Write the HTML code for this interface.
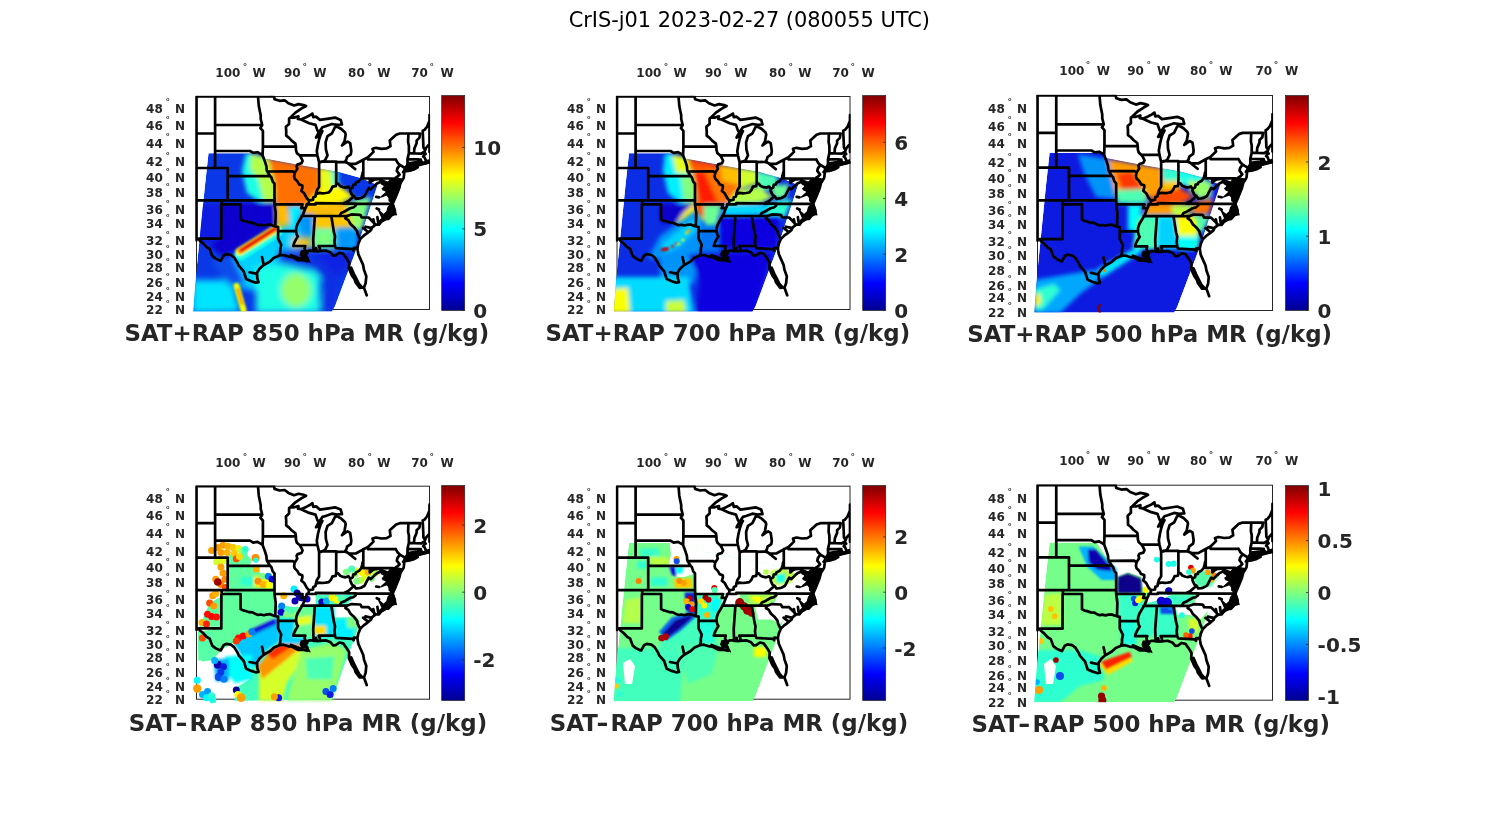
<!DOCTYPE html>
<html><head><meta charset="utf-8"><title>CrIS-j01 2023-02-27 (080055 UTC)</title>
<style>html,body{margin:0;padding:0;background:#fff}body{width:1500px;height:825px;overflow:hidden}svg{display:block}text{font-family:"DejaVu Sans","Liberation Sans",sans-serif}.b{font-weight:bold;fill:#262626}.t{font-size:12px}.d{font-size:9px}.c{font-size:20px}.x{font-size:22.92px}</style></head><body>
<svg width="1500" height="825" viewBox="0 0 1500 825">
<defs>
<linearGradient id="jet" x1="0" y1="0" x2="0" y2="1"><stop offset="0" stop-color="#800000"/><stop offset="0.125" stop-color="#ff0000"/><stop offset="0.375" stop-color="#ffff00"/><stop offset="0.625" stop-color="#00ffff"/><stop offset="0.875" stop-color="#0000ff"/><stop offset="1" stop-color="#000090"/></linearGradient>
<clipPath id="box"><rect x="195.1" y="95.8" width="235.0" height="214.2"/></clipPath>
<filter id="b0_6" x="-50%" y="-50%" width="200%" height="200%"><feGaussianBlur stdDeviation="0.6"/></filter>
<filter id="b1" x="-50%" y="-50%" width="200%" height="200%"><feGaussianBlur stdDeviation="1"/></filter>
<filter id="b1_5" x="-50%" y="-50%" width="200%" height="200%"><feGaussianBlur stdDeviation="1.5"/></filter>
<filter id="b2" x="-50%" y="-50%" width="200%" height="200%"><feGaussianBlur stdDeviation="2"/></filter>
<filter id="b3" x="-50%" y="-50%" width="200%" height="200%"><feGaussianBlur stdDeviation="3"/></filter>
<filter id="b4" x="-50%" y="-50%" width="200%" height="200%"><feGaussianBlur stdDeviation="4"/></filter>
<filter id="b6" x="-50%" y="-50%" width="200%" height="200%"><feGaussianBlur stdDeviation="6"/></filter>
<g id="map" clip-path="url(#box)"><g fill="none" stroke="#000" stroke-width="2.7" stroke-linejoin="round" stroke-linecap="round">
<path d="M196.5 96.5 L271.1 96.5 L271.1 92.6 M215.1 96.5 L215.1 168.0 M196.5 133.5 L215.1 133.5 M215.1 125.0 L262.2 125.0 M215.1 151.0 L250.0 151.0 L253.2 152.9 L257.6 152.2 L261.4 154.4 L262.6 155.3 M196.5 168.0 L227.7 168.0 M227.7 168.0 L227.7 200.4 M227.7 176.2 L270.2 176.2 M196.5 200.4 L274.5 200.4 M221.7 200.4 L221.7 204.3 L240.6 204.3 L240.6 219.4 M221.4 204.3 L221.3 238.7 L198.9 238.7 M196.5 96.5 L196.5 240.3 M240.6 219.4 L243.1 220.7 L245.6 221.3 L249.4 222.5 L252.5 222.7 L255.1 224.0 L258.2 225.3 L260.7 224.8 L263.9 225.5 L267.0 224.7 L270.2 224.5 L272.7 225.6 L275.3 226.4 L278.1 227.0 M274.5 200.4 L274.5 204.3 L275.7 212.9 L275.3 226.4 M274.5 204.3 L302.6 204.3 L301.2 208.2 L305.4 208.2 M274.5 200.4 L274.5 183.6 L272.7 181.6 L271.4 177.5 L270.2 176.2 L267.2 171.5 M267.2 171.5 L292.7 171.3 L294.6 173.1 M262.9 146.7 L295.9 146.7 M262.6 155.3 L262.9 146.7 L262.9 130.8 L260.4 128.1 L262.2 125.0 L260.7 119.0 L260.7 115.3 L258.8 106.0 L258.0 96.5 M262.6 155.3 L265.1 162.1 L266.4 166.3 L266.7 170.0 L267.2 171.5 M290.3 117.6 L289.1 118.5 L289.1 123.9 L285.9 126.8 L286.2 130.8 L286.2 135.7 L289.1 137.9 L291.6 140.6 L295.4 143.6 L295.9 146.7 L296.0 150.1 L296.9 153.1 L299.5 155.3 L301.0 157.4 L302.6 160.8 L301.4 163.3 L297.6 164.4 L296.6 166.3 L297.3 168.8 L294.7 172.9 L294.1 176.2 L294.7 178.7 L297.3 181.2 L299.1 184.4 L302.3 185.5 L302.4 187.6 L301.4 190.9 L304.2 193.3 L306.7 198.0 L309.0 200.6 L308.6 203.5 L306.7 204.3 L306.4 206.3 L305.4 208.2 L304.2 211.3 L302.9 214.8 L301.7 216.7 L299.9 219.8 L297.6 223.6 L296.3 227.4 L296.0 231.2 L296.9 234.9 L297.9 236.4 L296.0 239.4 L294.1 243.1 L293.3 246.0 M293.3 246.0 L305.3 246.0 L304.5 248.6 L306.1 251.9 M278.1 231.2 L296.2 231.2 M278.1 227.0 L278.1 238.7 L279.6 241.6 L281.2 244.9 L280.3 249.0 L280.3 252.6 L279.3 255.5 M313.6 251.2 L313.2 239.4 L314.9 216.0 M331.3 216.0 L333.9 232.2 L335.0 236.4 L334.5 241.6 L335.0 246.0 M319.6 251.2 L319.9 248.6 L318.7 246.0 L335.0 246.0 M335.0 246.0 L335.9 248.2 L352.7 249.2 L353.6 250.7 L353.9 247.9 L357.4 248.2 M301.7 216.0 L347.0 216.0 M306.7 204.3 L315.8 204.3 L315.8 203.2 L343.4 203.5 L355.9 203.6 L392.5 203.9 M339.4 216.0 L341.3 212.9 L344.5 211.6 L347.0 210.0 L350.2 208.2 L353.3 207.5 L355.8 205.5 L355.9 203.6 M347.0 216.0 L351.4 214.4 L360.0 214.8 L360.7 215.2 L361.6 217.4 L368.6 217.5 L375.7 224.7 M347.0 216.0 L345.4 218.3 L348.3 220.2 L350.5 224.0 L354.2 227.4 L357.1 231.2 L357.7 234.2 L359.5 237.9 L360.9 238.4 M343.4 203.5 L348.3 201.2 L354.1 196.1 L352.0 194.9 L350.2 190.9 L350.2 189.1 M363.3 171.0 L362.6 172.9 L362.1 175.4 L361.2 178.7 L359.0 181.2 L355.8 182.8 L355.5 184.4 L353.3 184.8 L352.7 187.6 L350.2 189.1 L348.6 186.6 L345.7 187.6 L343.2 187.2 L340.1 186.0 L338.2 183.6 L336.2 183.6 L335.7 186.2 L332.5 186.6 L330.9 190.1 L328.7 192.5 L325.6 193.0 L322.4 193.3 L319.3 192.9 L315.8 194.1 L315.5 196.4 L313.3 197.2 L313.0 199.8 L309.0 200.6 M315.8 194.1 L316.8 190.5 L319.1 186.8 L319.1 181.6 L319.1 161.6 M336.2 183.6 L336.2 162.1 M321.2 161.6 L336.2 161.6 L336.2 162.1 L344.8 161.9 M299.5 155.3 L317.4 155.3 M363.3 178.5 L363.3 159.5 M368.0 157.3 L368.0 159.5 L395.8 159.5 M363.3 178.5 L393.0 178.5 M369.8 178.5 L369.8 182.8 L372.2 180.7 L374.4 179.5 L376.6 179.4 L377.9 178.9 L380.1 179.5 L380.9 181.8 L382.3 183.6 L384.2 184.7 L385.2 186.0 L383.5 189.3 L385.4 190.1 L389.8 192.9 M380.9 181.8 L376.9 183.6 L373.8 186.4 L370.9 189.3 L368.7 188.0 L364.6 196.0 L360.9 198.0 L359.0 198.4 L355.9 198.8 L354.1 196.1 M393.0 178.5 L393.0 188.9 L397.7 188.9 M394.6 179.5 L395.4 177.9 L397.4 176.7 L399.6 174.6 L396.8 170.9 L397.4 168.4 L399.9 164.9 L397.7 162.9 L395.8 159.5 M399.9 164.9 L404.9 168.0 M406.5 168.0 L407.5 165.4 L407.5 159.1 L408.9 153.1 L408.9 145.8 L408.1 142.3 L408.4 133.5 M389.8 140.6 L396.1 134.8 L399.9 133.5 L420.1 133.5 M407.5 159.2 L418.2 159.4 L420.8 159.5 L420.8 160.4 L421.9 162.1 L422.4 163.8 M417.9 165.3 L418.2 159.4 M408.9 153.2 L421.3 153.6 L423.2 152.3 L424.3 152.1 M414.0 153.3 L414.4 148.4 L416.6 143.2 L416.6 140.6 L419.4 137.9 L420.1 133.5 M425.1 150.4 L423.4 147.5 L423.3 144.1 L423.0 137.0 L422.7 130.8 L424.5 129.9 L427.0 126.8 L429.5 120.8 M389.8 140.6 L390.5 146.2 L386.7 148.4 L381.6 148.8 L376.0 147.8 L372.5 148.8 L373.5 151.9 L368.0 157.3 L363.3 159.7 L355.8 163.8 L349.5 163.8 L344.8 161.9 L346.4 159.5 L347.0 157.0 L350.8 154.4 L351.3 151.0 L350.2 143.2 L347.6 141.7 L345.1 143.2 L342.0 145.4 L344.5 141.4 L345.7 134.4 L345.1 132.6 L341.3 129.0 L336.9 126.5 L335.0 127.2 L331.9 133.5 L327.5 136.1 L325.6 142.3 L325.9 149.3 L327.5 155.3 L325.0 160.4 L321.2 162.1 L319.1 162.1 L317.4 155.3 L316.8 151.0 L318.0 144.1 L319.3 138.8 L320.6 134.8 L322.4 131.2 L317.4 137.0 L316.1 137.5 L318.7 132.6 L322.4 127.2 L325.6 126.3 L331.9 124.0 L336.9 124.9 L340.7 124.5 L342.0 124.5 L340.7 119.9 L335.0 117.6 L328.7 118.6 L319.9 119.9 L316.1 116.7 L313.3 117.2 L312.4 113.5 L309.9 115.3 L306.1 117.2 L301.0 119.5 L297.9 119.0 L298.5 116.3 L294.1 117.6 L290.3 117.6 L295.4 112.6 L301.7 108.4 L306.1 106.0 L303.6 105.1 L298.5 104.1 L294.1 105.5 L288.4 103.2 L284.7 100.3 L279.6 100.8 L274.6 99.2 L274.0 96.5 L271.1 96.5 M301.0 119.5 L309.2 123.2 L315.5 124.9 L317.4 130.4 L318.7 132.6 M258.5 282.2 L255.7 282.6 L251.3 281.2 L246.2 279.1 L243.7 271.3 L238.7 265.6 L237.4 262.7 L234.3 257.7 L231.1 255.0 L226.1 254.2 L223.6 255.5 L220.7 260.8 L219.8 260.6 L215.4 258.4 L212.2 255.9 L209.7 249.0 L206.6 247.1 L202.8 243.1 L199.6 240.5 L198.9 238.7 M258.5 282.2 L257.3 278.4 L257.0 272.7 L259.5 268.8 L263.3 265.3 L270.2 261.3 L274.0 257.7 L279.3 255.5 L283.4 255.0 L289.1 256.8 L292.2 257.0 L295.4 258.8 L297.9 260.2 L302.3 259.9 L307.3 261.1 L307.3 257.7 L305.4 255.5 L307.3 253.0 L306.1 251.9 L309.9 250.6 L313.6 250.8 L315.5 251.2 L316.1 248.2 L316.8 251.5 L319.6 251.2 L325.6 250.6 L330.6 252.6 L333.2 255.7 L335.7 255.4 L339.4 252.8 L343.2 253.7 L347.0 259.1 L349.2 262.7 L348.9 268.5 L352.0 275.6 L354.6 279.1 L355.5 282.3 L359.6 287.8 L364.0 287.5 L365.6 283.3 L366.3 276.3 L364.0 269.9 L363.1 264.9 L360.5 259.1 L358.3 254.1 L357.7 250.4 L357.4 248.2 L358.3 243.8 L360.2 239.4 L360.9 238.4 L363.7 235.7 L367.2 233.1 L370.9 230.1 L372.2 227.4 L375.7 224.7 L379.1 224.6 L381.6 221.3 L384.8 218.7 L388.3 219.0 L391.7 215.2 L394.7 214.1 L394.9 210.2 L392.5 203.9 L391.7 201.2 L389.8 200.4 L389.8 196.4 L389.8 192.9 L389.2 190.1 L388.6 185.2 L389.2 182.0 L391.4 179.9 L390.5 182.0 L389.8 186.8 L391.7 190.9 L392.3 193.3 L392.0 199.2 L394.2 195.6 L396.1 192.5 L397.7 188.9 L397.4 186.0 L395.5 182.0 L394.6 179.5 M394.6 179.5 L394.9 180.7 L398.0 182.8 L398.6 185.0 L401.8 181.2 L403.7 177.9 L404.3 172.5 L403.1 172.1 L404.3 170.5 L404.9 168.0 M404.3 171.5 L408.7 171.0 L413.8 169.5 L417.7 167.4 L415.0 167.1 L413.1 168.4 L408.7 168.6 L405.9 169.2 L404.3 171.5 M406.5 168.0 L411.2 165.9 L416.3 165.4 L417.9 165.3 L420.7 164.2 L420.7 161.2 L422.4 163.8 L423.8 163.3 L425.4 163.3 L429.5 162.3 L426.4 161.4 L425.4 159.5 L424.5 157.4 L423.2 156.6 L424.1 154.9 L425.7 154.0 L424.3 152.1 L425.1 150.4 L426.0 148.0 L428.2 145.4 L429.5 144.5 M363.8 287.3 L366.7 295.3 M249.6 272.3 L255.7 273.6 M345.4 161.2 L355.2 169.1 M378.1 222.1 L377.4 217.2 M374.4 224.2 L373.3 219.3 M370.8 227.9 L365.5 226.7 M368.4 232.2 L363.1 227.9 M379.1 197.3 L376.2 196.8 M379.1 209.6 L376.7 208.5 M429.5 115.0 L429.5 152.0 M351.2 267.7 L353.7 273.5 L356.7 279.3 L359.0 284.0 L361.7 286.9 M262.0 257.0 L263.6 264.2 M291.0 255.2 L297.0 257.5 L303.0 259.6 L308.0 261.0"/>
<path fill="#000" stroke-width="1.2" d="M381.4 179.5 L388.0 182.4 L396.0 178.0 L402.2 179.2 L399.9 188.5 L396.4 197.2 L393.5 203.8 L390.9 204.2 L390.1 198.7 L386.8 195.0 L380.7 197.2 L387.2 191.4 L382.2 188.5 L388.0 185.9 L383.3 183.4Z M390.1 204.8 L393.5 204.2 L396.4 214.9 L392.3 213.5 L388.7 218.3 L383.6 221.2 L378.1 224.1 L378.1 221.9 L382.2 218.3 L378.5 210.3 L383.6 214.7 L386.8 211.7 L388.0 207.4Z M404.7 167.4 L408.3 162.6 L415.6 161.5 L421.4 162.9 L429.0 159.7 L429.4 163.2 L421.4 165.2 L415.6 166.7 L411.2 170.8 L407.6 168.6 L405.7 170.5Z M301.3 250.9 L305.6 250.6 L306.3 255.3 L310.0 262.2 L305.6 258.2 L302.0 258.2 L300.2 254.5Z"/>
</g></g>
</defs>
<rect width="1500" height="825" fill="#fff"/>
<text x="749.3" y="26.6" text-anchor="middle" font-size="20.9px" fill="#000">CrIS-j01 2023-02-27 (080055 UTC)</text>
<rect x="196.5" y="96.5" width="233.0" height="213.0" fill="none" stroke="#262626" stroke-width="1"/>
<g transform="translate(196.50 96.50) scale(1.00000 1.00000) translate(-196.50 -96.50)">
<clipPath id="sw0"><polygon points="208.5,153.2 261.5,153.2 265,158.4 297,164.5 338.3,171.8 361,178 377.6,185 358,245 335,306 332,311.5 193.2,311.5 196,275 200.5,230 205,185"/></clipPath>
<g clip-path="url(#sw0)">
<polygon points="208.5,153.2 261.5,153.2 265,158.4 297,164.5 338.3,171.8 361,178 377.6,185 358,245 335,306 332,311.5 193.2,311.5 196,275 200.5,230 205,185" fill="#0a38e7"/>
<g filter="url(#b2)">
<polygon points="221,203 275,203 275,225 246,251 228,263 210,245 221,239" fill="#0d00ce"/>
<polygon points="199,203 221,203 221,239 210,245 197,241" fill="#0d1ae0"/>
<polygon points="246,153 269,158.6 275,181 275,202 260,202 247,193 242,171" fill="#1affe5"/>
<polygon points="251,153 269,158.6 275,181 275,202 264,202 258,179 250,169" fill="#b3ff4c"/>
<polygon points="268,158.6 300,164.6 321,168 321,189 310,205 276,205 274,181" fill="#ff7000"/>
<polygon points="320,167.4 337,170.6 338,190 320,192" fill="#e5ff1a"/>
<polygon points="331,170 338,171 339,190 333,190" fill="#2effd1"/>
<polygon points="316,192 339,185 354,197 340,203 306,205" fill="#fffa00"/>
<polygon points="303,203.6 359,203.6 347,214 303,214.6" fill="#ffbd00"/>
<polygon points="354,200 371,197 365,217 348,215 346,209" fill="#80ff80"/>
<polygon points="347,214 366,215 361,231 352,229" fill="#94ff6b"/>
<polygon points="275.6,205 288,205 290,231 277,231" fill="#ffbd00"/>
<polygon points="289,206 302,206 298,231 290,231" fill="#00f0ff"/>
<polygon points="298,215 314,215 313,247 295,247" fill="#0394f9"/>
<polygon points="313.6,214.6 332,214.6 334,230 313.6,229.4" fill="#ffc700"/>
<polygon points="313.6,229.4 334,230 335,247 313.6,247" fill="#38ffc7"/>
<polygon points="332,213 349,214 354,228 334,229" fill="#ffc700"/>
<polygon points="334,229.4 356,228 356,248 335,248" fill="#00b2ff"/>
</g>
<g filter="url(#b3)">
<polygon points="238,252.4 275,228.4 281,250 277,285 256,291 232,286 220,269" fill="#00d1ff"/>
<polygon points="192,280 232,280 240,312 192,313" fill="#00e5ff"/>
<polygon points="210,260 232,254 246,284 230,286" fill="#084deb"/>
<polygon points="256,266 284,264 320,272 320,313 256,313" fill="#1affe5"/>
<ellipse cx="296" cy="290" rx="15" ry="17" fill="#94ff6b"/>
<polygon points="276,253 310,257 338,277 335,309 320,309 329,284 308,266 280,262" fill="#0b2ee4"/>
<polygon points="312,250 354,251 349,266 338,277 320,260" fill="#0c24e2"/>
<polygon points="279,226 300,226 300,250 280,250" fill="#00d1ff"/>
<polygon points="293.6,237.6 311,237.6 311,247.6 292,247.6" fill="#ffc700"/>
<polygon points="313.6,230 334,230 335,247.6 313.6,247.6" fill="#80ff80"/>
<polygon points="336,230 356,230 352,248 336,248" fill="#0394f9"/>
</g>
<g filter="url(#b1)">
<polyline points="240.5,254.5 277,231.5" fill="none" stroke="#1affe5" stroke-width="12" stroke-linecap="round" stroke-linejoin="round"/>
<polyline points="239.5,251.6 276.5,228.5" fill="none" stroke="#faff05" stroke-width="8" stroke-linecap="round" stroke-linejoin="round"/>
<polyline points="240.5,250.8 276,228.3" fill="none" stroke="#ff7500" stroke-width="5.6" stroke-linecap="round" stroke-linejoin="round"/>
<polyline points="242,249.8 275,228.8" fill="none" stroke="#e50000" stroke-width="3.4" stroke-linecap="round" stroke-linejoin="round"/>
<polyline points="236.6,286 243.6,310.4" fill="none" stroke="#faff05" stroke-width="6" stroke-linecap="round" stroke-linejoin="round"/>
<polyline points="237.6,289 242,304" fill="none" stroke="#ff8a00" stroke-width="2.5" stroke-linecap="round" stroke-linejoin="round"/>
</g>
</g>
</g>
<use href="#map" transform="translate(196.50 96.50) scale(1.00000 1.00000) translate(-196.50 -96.50)"/>
<g transform="translate(0 0)">
<text class="b t" x="215.3" y="76.9">100</text>
<text class="b d" x="242.8" y="69.5">°</text>
<text class="b t" x="252.6" y="76.9">W</text>
<text class="b t" x="284.0" y="76.9">90</text>
<text class="b d" x="302.6" y="69.5">°</text>
<text class="b t" x="313.2" y="76.9">W</text>
<text class="b t" x="348.1" y="76.9">80</text>
<text class="b d" x="367.6" y="69.5">°</text>
<text class="b t" x="377.3" y="76.9">W</text>
<text class="b t" x="411.2" y="76.9">70</text>
<text class="b d" x="429.6" y="69.5">°</text>
<text class="b t" x="440.6" y="76.9">W</text>
<text class="b t" x="146.1" y="112.7">48</text>
<text class="b d" x="165.45" y="105.1">°</text>
<text class="b t" x="174.9" y="112.7">N</text>
<text class="b t" x="146.1" y="130.4">46</text>
<text class="b d" x="165.45" y="122.8">°</text>
<text class="b t" x="174.9" y="130.4">N</text>
<text class="b t" x="146.1" y="147.6">44</text>
<text class="b d" x="165.45" y="140.0">°</text>
<text class="b t" x="174.9" y="147.6">N</text>
<text class="b t" x="146.1" y="166.4">42</text>
<text class="b d" x="165.45" y="158.8">°</text>
<text class="b t" x="174.9" y="166.4">N</text>
<text class="b t" x="146.1" y="182.4">40</text>
<text class="b d" x="165.45" y="174.8">°</text>
<text class="b t" x="174.9" y="182.4">N</text>
<text class="b t" x="146.1" y="197.3">38</text>
<text class="b d" x="165.45" y="189.7">°</text>
<text class="b t" x="174.9" y="197.3">N</text>
<text class="b t" x="146.1" y="214.3">36</text>
<text class="b d" x="165.45" y="206.7">°</text>
<text class="b t" x="174.9" y="214.3">N</text>
<text class="b t" x="146.1" y="228.1">34</text>
<text class="b d" x="165.45" y="220.5">°</text>
<text class="b t" x="174.9" y="228.1">N</text>
<text class="b t" x="146.1" y="245.4">32</text>
<text class="b d" x="165.45" y="237.8">°</text>
<text class="b t" x="174.9" y="245.4">N</text>
<text class="b t" x="146.1" y="259.3">30</text>
<text class="b d" x="165.45" y="251.7">°</text>
<text class="b t" x="174.9" y="259.3">N</text>
<text class="b t" x="146.1" y="272.4">28</text>
<text class="b d" x="165.45" y="264.8">°</text>
<text class="b t" x="174.9" y="272.4">N</text>
<text class="b t" x="146.1" y="287.3">26</text>
<text class="b d" x="165.45" y="279.7">°</text>
<text class="b t" x="174.9" y="287.3">N</text>
<text class="b t" x="146.1" y="301.1">24</text>
<text class="b d" x="165.45" y="293.5">°</text>
<text class="b t" x="174.9" y="301.1">N</text>
<text class="b t" x="146.1" y="314.2">22</text>
<text class="b d" x="165.45" y="306.6">°</text>
<text class="b t" x="174.9" y="314.2">N</text>
<rect x="441.7" y="95.5" width="23" height="215.0" fill="url(#jet)" stroke="#262626" stroke-width="0.7"/>
<line x1="462.2" x2="464.7" y1="310.3" y2="310.3" stroke="#262626" stroke-width="0.8"/>
<text class="b c" x="473.3" y="317.8">0</text>
<line x1="462.2" x2="464.7" y1="228.9" y2="228.9" stroke="#262626" stroke-width="0.8"/>
<text class="b c" x="473.3" y="236.4">5</text>
<line x1="462.2" x2="464.7" y1="147.5" y2="147.5" stroke="#262626" stroke-width="0.8"/>
<text class="b c" x="473.3" y="155.0">10</text>
<text class="b x" x="124.4" y="340.7">SAT+RAP 850 hPa MR (g/kg)</text>
</g>
<rect x="617.0" y="96.5" width="233.0" height="213.0" fill="none" stroke="#262626" stroke-width="1"/>
<g transform="translate(617.00 96.50) scale(1.00000 1.00000) translate(-196.50 -96.50)">
<clipPath id="sw1"><polygon points="208.5,153.2 261.5,153.2 265,158.4 297,164.5 338.3,171.8 361,178 377.6,185 358,245 335,306 332,311.5 193.2,311.5 196,275 200.5,230 205,185"/></clipPath>
<g clip-path="url(#sw1)">
<polygon points="208.5,153.2 261.5,153.2 265,158.4 297,164.5 338.3,171.8 361,178 377.6,185 358,245 335,306 332,311.5 193.2,311.5 196,275 200.5,230 205,185" fill="#0b2ee4"/>
<g filter="url(#b2)">
<polygon points="239.5,204 273.5,204 273.5,223 239.5,223" fill="#0d00ca"/>
<polygon points="244.5,153 268.5,158.6 274.5,181 274.5,203 259.5,203 247.5,193 242.5,171" fill="#00f0ff"/>
<polygon points="251.5,154 268.5,158.6 270.5,173 255.5,173" fill="#e5ff1a"/>
<polygon points="259.5,175 274.5,175 274.5,203 263.5,203" fill="#80ff80"/>
<polygon points="267.5,158.6 299.5,164.6 320.5,168 320.5,189 309.5,204 275.5,204 273.5,181" fill="#ff7500"/>
<polygon points="267.5,158.6 299.5,164.6 299.5,170 269.5,168" fill="#ff4c00"/>
<polygon points="273.5,173 283.5,171 297.5,203 279.5,204" fill="#ff1a00"/>
<polygon points="299.5,165 319.5,168 319.5,185 301.5,181" fill="#ffbd00"/>
<polygon points="319.5,168 336.5,170.6 337.5,183 319.5,189" fill="#d1ff2e"/>
<polygon points="336.5,171 357.5,176 355.5,190 337.5,189" fill="#4dffb2"/>
<polygon points="315.5,191 337.5,186 352.5,197 339.5,203 306.5,204.6" fill="#b3ff4c"/>
<polygon points="350.5,186 368.5,184 365.5,198 353.5,198" fill="#6bff94"/>
<polygon points="302.5,204.4 358.5,204.4 346.5,214.6 302.5,215" fill="#00dbff"/>
<polygon points="349.5,202 371.5,199 364.5,217 345.5,215" fill="#2effd1"/>
<polygon points="256,224 262,214 272,204 283,204 283,221 270,227" fill="#fff000"/>
<polygon points="274,204 283,204 283,218 276,216" fill="#ff4c00"/>
<polygon points="283.5,205 300.5,205 297.5,230 283.5,230" fill="#6bff94"/>
<polygon points="297.5,215 359.5,215 355.5,248 291.5,248" fill="#0d00e0"/>
</g>
<g filter="url(#b2)">
<polygon points="239.5,236 275.5,210 285.5,226 279.5,252 245.5,260 227.5,258" fill="#0394f9"/>
<polygon points="241.5,244 273.5,218 279.5,226 259.5,246 243.5,254" fill="#00d1ff"/>
<polygon points="239.5,252 279.5,250 273.5,284 239.5,284" fill="#0394f9"/>
<polygon points="191.5,277 267.5,277 273.5,313 191.5,313" fill="#00dbff"/>
<polygon points="190.5,289 207.5,288 209.5,313 190.5,313" fill="#faff05"/>
<polygon points="245.5,301 263.5,300 265.5,313 245.5,313" fill="#c7ff38"/>
<polygon points="267.5,254 351.5,252 334.5,313 275.5,313 279.5,280" fill="#0d00e0"/>
<polygon points="278.5,225 299.5,225 299.5,252 279.5,252" fill="#0575f3"/>
</g>
<g filter="url(#b1)">
<ellipse cx="244.5" cy="249.3" rx="4.2" ry="1.8" fill="#c70000" transform="rotate(-12 244.5 249.3)"/>
<circle cx="268.3" cy="230.8" r="1.8" fill="#ff9e00"/>
<circle cx="266" cy="233" r="1.5" fill="#ffdb00"/>
<circle cx="262.5" cy="240" r="1.6" fill="#e5ff1a"/>
<circle cx="258" cy="244" r="1.6" fill="#b3ff4c"/>
<circle cx="252" cy="246.5" r="1.4" fill="#e50000"/>
<circle cx="256" cy="243.5" r="1.2" fill="#fa0000"/>
</g>
</g>
</g>
<use href="#map" transform="translate(617.00 96.50) scale(1.00000 1.00000) translate(-196.50 -96.50)"/>
<g transform="translate(421 0)">
<text class="b t" x="215.3" y="76.9">100</text>
<text class="b d" x="242.8" y="69.5">°</text>
<text class="b t" x="252.6" y="76.9">W</text>
<text class="b t" x="284.0" y="76.9">90</text>
<text class="b d" x="302.6" y="69.5">°</text>
<text class="b t" x="313.2" y="76.9">W</text>
<text class="b t" x="348.1" y="76.9">80</text>
<text class="b d" x="367.6" y="69.5">°</text>
<text class="b t" x="377.3" y="76.9">W</text>
<text class="b t" x="411.2" y="76.9">70</text>
<text class="b d" x="429.6" y="69.5">°</text>
<text class="b t" x="440.6" y="76.9">W</text>
<text class="b t" x="146.1" y="112.7">48</text>
<text class="b d" x="165.45" y="105.1">°</text>
<text class="b t" x="174.9" y="112.7">N</text>
<text class="b t" x="146.1" y="130.4">46</text>
<text class="b d" x="165.45" y="122.8">°</text>
<text class="b t" x="174.9" y="130.4">N</text>
<text class="b t" x="146.1" y="147.6">44</text>
<text class="b d" x="165.45" y="140.0">°</text>
<text class="b t" x="174.9" y="147.6">N</text>
<text class="b t" x="146.1" y="166.4">42</text>
<text class="b d" x="165.45" y="158.8">°</text>
<text class="b t" x="174.9" y="166.4">N</text>
<text class="b t" x="146.1" y="182.4">40</text>
<text class="b d" x="165.45" y="174.8">°</text>
<text class="b t" x="174.9" y="182.4">N</text>
<text class="b t" x="146.1" y="197.3">38</text>
<text class="b d" x="165.45" y="189.7">°</text>
<text class="b t" x="174.9" y="197.3">N</text>
<text class="b t" x="146.1" y="214.3">36</text>
<text class="b d" x="165.45" y="206.7">°</text>
<text class="b t" x="174.9" y="214.3">N</text>
<text class="b t" x="146.1" y="228.1">34</text>
<text class="b d" x="165.45" y="220.5">°</text>
<text class="b t" x="174.9" y="228.1">N</text>
<text class="b t" x="146.1" y="245.4">32</text>
<text class="b d" x="165.45" y="237.8">°</text>
<text class="b t" x="174.9" y="245.4">N</text>
<text class="b t" x="146.1" y="259.3">30</text>
<text class="b d" x="165.45" y="251.7">°</text>
<text class="b t" x="174.9" y="259.3">N</text>
<text class="b t" x="146.1" y="272.4">28</text>
<text class="b d" x="165.45" y="264.8">°</text>
<text class="b t" x="174.9" y="272.4">N</text>
<text class="b t" x="146.1" y="287.3">26</text>
<text class="b d" x="165.45" y="279.7">°</text>
<text class="b t" x="174.9" y="287.3">N</text>
<text class="b t" x="146.1" y="301.1">24</text>
<text class="b d" x="165.45" y="293.5">°</text>
<text class="b t" x="174.9" y="301.1">N</text>
<text class="b t" x="146.1" y="314.2">22</text>
<text class="b d" x="165.45" y="306.6">°</text>
<text class="b t" x="174.9" y="314.2">N</text>
<rect x="441.7" y="95.5" width="23" height="215.0" fill="url(#jet)" stroke="#262626" stroke-width="0.7"/>
<line x1="462.2" x2="464.7" y1="310.3" y2="310.3" stroke="#262626" stroke-width="0.8"/>
<text class="b c" x="473.3" y="317.8">0</text>
<line x1="462.2" x2="464.7" y1="254.2" y2="254.2" stroke="#262626" stroke-width="0.8"/>
<text class="b c" x="473.3" y="261.7">2</text>
<line x1="462.2" x2="464.7" y1="198.4" y2="198.4" stroke="#262626" stroke-width="0.8"/>
<text class="b c" x="473.3" y="205.9">4</text>
<line x1="462.2" x2="464.7" y1="142.3" y2="142.3" stroke="#262626" stroke-width="0.8"/>
<text class="b c" x="473.3" y="149.8">6</text>
<text class="b x" x="124.4" y="340.7">SAT+RAP 700 hPa MR (g/kg)</text>
</g>
<rect x="1037.5" y="95.5" width="235.0" height="215.0" fill="none" stroke="#262626" stroke-width="1"/>
<g transform="translate(1037.50 95.50) scale(1.00858 1.00939) translate(-196.50 -96.50)">
<clipPath id="sw2"><polygon points="208.5,153.2 261.5,153.2 265,158.4 297,164.5 338.3,171.8 361,178 377.6,185 358,245 335,306 332,311.5 193.2,311.5 196,275 200.5,230 205,185"/></clipPath>
<g clip-path="url(#sw2)">
<polygon points="208.5,153.2 261.5,153.2 265,158.4 297,164.5 338.3,171.8 361,178 377.6,185 358,245 335,306 332,311.5 193.2,311.5 196,275 200.5,230 205,185" fill="#0d1ae0"/>
<g filter="url(#b2)">
<polygon points="236.6,154.5 266.4,159.4 274.3,181.2 272.3,199.1 254.5,197.1 242.6,173.3" fill="#0394f9"/>
<polygon points="266.4,159.4 298.1,165 319.9,168.4 319.9,197.1 274.3,197.1" fill="#ff9e00"/>
<polygon points="274.3,173.3 290.2,171.3 306,197.1 282.2,197.1" fill="#ff3800"/>
<polygon points="274.3,190.2 302,189.2 306,203.4 275.3,203.4" fill="#4dffb2"/>
<polygon points="320.3,166.4 337.7,169.4 337.7,181.2 320.3,181.2" fill="#2effd1"/>
<polygon points="320.3,181.2 337.7,181.2 337.7,192.1 320.3,193.1" fill="#ffc700"/>
<polygon points="337.7,169.4 363.5,176.3 362.5,189.2 337.7,185.2" fill="#1affe5"/>
<polygon points="345.7,181.2 358.5,181.2 357.5,192.1 347.6,192.1" fill="#bdff42"/>
<polygon points="314.9,192.1 337.7,188.2 351.6,197.1 338.7,203.4 306,204.6" fill="#ff4c00"/>
<polygon points="351.6,181.2 369.4,181.2 367.5,198.1 353.6,198.1" fill="#94ff6b"/>
<polygon points="368.4,181.2 377.4,184.2 374.4,197.1 368.4,197.1" fill="#0d1ae0"/>
<polygon points="306,204.4 329.8,204.4 329.8,214.9 301.1,214.9" fill="#ff9e00"/>
<polygon points="329.8,204.4 353.6,204.4 344.7,214.9 329.8,214.9" fill="#bdff42"/>
<polygon points="352.6,202.1 370.4,199.1 366.5,213.9 349.6,213.9" fill="#ff7500"/>
<polygon points="286.2,205 300.1,205 297.1,230.8 286.2,230.8" fill="#05fffa"/>
<polygon points="297.1,215.9 315.9,215.9 315.9,247.6 292.1,247.6" fill="#1affe5"/>
<polygon points="315.9,215.9 333.8,215.9 335.7,247.6 315.9,247.6" fill="#05fffa"/>
<polygon points="332.8,214.9 351.6,214.9 353.6,233.8 335.7,233.8" fill="#ffc700"/>
<polygon points="335.7,233.8 357.5,232.8 355.6,248.6 336.7,248.6" fill="#2effd1"/>
<polygon points="348.6,214.9 367.5,215.9 360.5,231.8 352.6,231.8" fill="#57ffa8"/>
</g>
<g filter="url(#b2)">
<polygon points="254.5,269.4 296.1,246 300.5,251.1 261.4,276.3" fill="#00f0ff"/>
<polygon points="193,279.3 252.5,269.4 261.4,276.3 238.6,293.2 218.8,312 193,312" fill="#01a8fd"/>
<polygon points="193,289.2 212.8,283.3 218.8,289.2 201,309 193,309" fill="#2effd1"/>
<polygon points="193,294.2 199,292.8 200,303.1 193,304.7" fill="#fff000"/>
<polygon points="295.1,217.8 315.9,217.8 313.9,247.6 292.1,247.6" fill="#4dffb2"/>
<polygon points="315.9,217.8 333.8,217.8 335.7,247.6 315.9,247.6" fill="#00d1ff"/>
<polygon points="333.8,217.8 353.6,217.8 354.6,235.7 335.7,235.7" fill="#faff05"/>
<polygon points="336.7,235.7 354.6,235.7 351.6,248.6 336.7,248.6" fill="#05fffa"/>
</g>
<g filter="url(#b0_6)">
<polyline points="258.4,304.1 256.5,308 258.4,311.4" fill="none" stroke="#800000" stroke-width="2.2" stroke-linecap="round" stroke-linejoin="round"/>
<circle cx="263" cy="270" r="1.6" fill="#ff8000"/>
</g>
</g>
</g>
<use href="#map" transform="translate(1037.50 95.50) scale(1.00858 1.00939) translate(-196.50 -96.50)"/>
<g transform="translate(842 0)">
<text class="b t" x="217.3" y="74.9">100</text>
<text class="b d" x="243.7" y="67.5">°</text>
<text class="b t" x="254.8" y="74.9">W</text>
<text class="b t" x="285.2" y="74.9">90</text>
<text class="b d" x="304.6" y="67.5">°</text>
<text class="b t" x="315.0" y="74.9">W</text>
<text class="b t" x="348.1" y="74.9">80</text>
<text class="b d" x="366.8" y="67.5">°</text>
<text class="b t" x="377.3" y="74.9">W</text>
<text class="b t" x="413.4" y="74.9">70</text>
<text class="b d" x="431.8" y="67.5">°</text>
<text class="b t" x="442.9" y="74.9">W</text>
<text class="b t" x="146.1" y="112.7">48</text>
<text class="b d" x="165.45" y="105.1">°</text>
<text class="b t" x="174.9" y="112.7">N</text>
<text class="b t" x="146.1" y="130.8">46</text>
<text class="b d" x="165.45" y="123.2">°</text>
<text class="b t" x="174.9" y="130.8">N</text>
<text class="b t" x="146.1" y="147.6">44</text>
<text class="b d" x="165.45" y="140.0">°</text>
<text class="b t" x="174.9" y="147.6">N</text>
<text class="b t" x="146.1" y="167.2">42</text>
<text class="b d" x="165.45" y="159.6">°</text>
<text class="b t" x="174.9" y="167.2">N</text>
<text class="b t" x="146.1" y="183.2">40</text>
<text class="b d" x="165.45" y="175.6">°</text>
<text class="b t" x="174.9" y="183.2">N</text>
<text class="b t" x="146.1" y="198.1">38</text>
<text class="b d" x="165.45" y="190.5">°</text>
<text class="b t" x="174.9" y="198.1">N</text>
<text class="b t" x="146.1" y="215.1">36</text>
<text class="b d" x="165.45" y="207.5">°</text>
<text class="b t" x="174.9" y="215.1">N</text>
<text class="b t" x="146.1" y="228.8">34</text>
<text class="b d" x="165.45" y="221.2">°</text>
<text class="b t" x="174.9" y="228.8">N</text>
<text class="b t" x="146.1" y="245.8">32</text>
<text class="b d" x="165.45" y="238.2">°</text>
<text class="b t" x="174.9" y="245.8">N</text>
<text class="b t" x="146.1" y="260.1">30</text>
<text class="b d" x="165.45" y="252.5">°</text>
<text class="b t" x="174.9" y="260.1">N</text>
<text class="b t" x="146.1" y="274.6">28</text>
<text class="b d" x="165.45" y="267.0">°</text>
<text class="b t" x="174.9" y="274.6">N</text>
<text class="b t" x="146.1" y="289.5">26</text>
<text class="b d" x="165.45" y="281.9">°</text>
<text class="b t" x="174.9" y="289.5">N</text>
<text class="b t" x="146.1" y="302.2">24</text>
<text class="b d" x="165.45" y="294.6">°</text>
<text class="b t" x="174.9" y="302.2">N</text>
<text class="b t" x="146.1" y="316.8">22</text>
<text class="b d" x="165.45" y="309.2">°</text>
<text class="b t" x="174.9" y="316.8">N</text>
<rect x="443.5" y="95.5" width="23" height="215.0" fill="url(#jet)" stroke="#262626" stroke-width="0.7"/>
<line x1="464.0" x2="466.5" y1="310.3" y2="310.3" stroke="#262626" stroke-width="0.8"/>
<text class="b c" x="475.6" y="317.8">0</text>
<line x1="464.0" x2="466.5" y1="236.2" y2="236.2" stroke="#262626" stroke-width="0.8"/>
<text class="b c" x="475.6" y="243.7">1</text>
<line x1="464.0" x2="466.5" y1="162.0" y2="162.0" stroke="#262626" stroke-width="0.8"/>
<text class="b c" x="475.6" y="169.5">2</text>
<text class="b x" x="125.2" y="341.5">SAT+RAP 500 hPa MR (g/kg)</text>
</g>
<rect x="196.5" y="486.2" width="233.0" height="213.0" fill="none" stroke="#262626" stroke-width="1"/>
<g transform="translate(196.50 486.20) scale(1.00000 1.00000) translate(-196.50 -96.50)">
<clipPath id="sw3"><polygon points="150,100 500,100 500,330 150,330"/></clipPath>
<g clip-path="url(#sw3)">
<g filter="url(#b0_6)">
<polygon points="229.1,176.2 258,176.2 261.1,186.5 272.4,189.6 274.4,205 274.9,227.7 268.3,231.8 258,238 241.5,248.3 220.9,260.6 212.7,270.9 198.2,270.9 198.2,242.1 220.9,238 220.9,205 229.1,199.3" fill="#61ff9e"/>
<polygon points="228.1,164.9 245.6,163.8 251.8,170 249.7,176.2 228.1,176.2" fill="#61ff9e"/>
<polygon points="209.6,213.3 220.9,207.1 220.9,237 199.3,237 204.4,225.6" fill="#61ff9e"/>
<polygon points="198.2,242.1 212.7,242.1 214.7,268.9 202.4,272 198.2,260.6" fill="#57ffa8"/>
<polygon points="232.2,252.4 258,238 276.5,227.7 277.5,216.4 286.8,216.4 293,217.4 334.2,217.4 334.2,227.7 354.8,227.7 359.9,231.8 354.8,248.3 343.5,277.1 332.1,310.1 234.3,311.1 236.3,297.7 249.7,289.5 251.8,277.1 239.4,260.6" fill="#42ffbd"/>
<polygon points="315.6,205 354.8,205 346.5,215.3 315.6,215.7" fill="#42ffbd"/>
</g>
<g filter="url(#b1_5)">
<polygon points="259,280.2 272.4,261.7 297.1,254.1 305.3,260.6 297.1,277.1 286.8,293.6 282.7,311.1 259,311.1" fill="#d6ff29"/>
<polygon points="258,276.1 272.4,259 293,252.4 302.3,256.5 287.8,268.9 273.4,280.2 262.1,289.5" fill="#ff9400"/>
<polygon points="267.2,263.7 280.6,254.1 296.1,252.4 286.8,260.6 272.4,269.9" fill="#ff2e00"/>
<polygon points="301.2,260.6 334.2,252.4 346.5,260.6 338.3,289.5 332.1,311.1 286.8,311.1 293,287.4" fill="#94ff6b"/>
<polygon points="305.3,268.9 334.2,266.8 332.1,289.5 307.4,289.5" fill="#4dffb2"/>
<polygon points="234.3,252.4 258,238 277.5,227.7 279.6,242.1 278.6,252.4 266.2,260.6 255.9,277.1 243.6,270.9" fill="#00c7ff"/>
<polygon points="249.7,240.5 275.5,228.7 277.5,233.9 251.8,245.8" fill="#0d00dc"/>
<polygon points="278.6,229.7 305.3,229.7 305.3,254.5 280.6,254.5" fill="#00d1ff"/>
<polygon points="313.6,217.4 334.2,217.4 335.2,247.3 313.6,247.3" fill="#00e5ff"/>
<polygon points="313.6,235.9 325.9,235.9 325.9,245.2 313.6,245.2" fill="#ffdb00"/>
<polygon points="296.1,217.4 313.6,217.4 313.2,247.3 293,247.3" fill="#6bff94"/>
<polygon points="297.1,227.7 311.5,225.6 311.5,233.9 297.1,235.9" fill="#e5ff1a"/>
<polygon points="335.2,229.7 354.8,227.7 352.7,248.3 336.2,248.3" fill="#00f0ff"/>
<polygon points="346.5,227.7 358.9,227.7 356.8,238 347.6,238" fill="#80ff80"/>
<polygon points="253.9,186.5 272.4,185.5 273.4,197.8 253.9,197.8" fill="#fff000"/>
<polygon points="240.5,187.5 253.9,187.5 253.9,195.8 240.5,195.8" fill="#2effd1"/>
<polygon points="225,266.8 251.8,264.8 251.8,289.5 235.3,293.6 225,281.2" fill="#05fffa"/>
<polygon points="213.7,269.9 229.1,268.9 229.1,291.5 215.7,291.5" fill="#00b2ff"/>
</g>
<g filter="url(#b0_6)">
<circle cx="211.6" cy="160.7" r="3.5" fill="#ff9e00"/>
<circle cx="217.8" cy="157.7" r="3.5" fill="#ff9e00"/>
<circle cx="223" cy="155.6" r="3.5" fill="#ff9e00"/>
<circle cx="228.1" cy="156.6" r="3.5" fill="#ffb300"/>
<circle cx="233.3" cy="157.7" r="3.5" fill="#ffc700"/>
<circle cx="238.4" cy="158.7" r="3.5" fill="#fff000"/>
<circle cx="220.9" cy="162.8" r="3.5" fill="#ff9e00"/>
<circle cx="227.1" cy="162.8" r="3.5" fill="#ffb300"/>
<circle cx="234.3" cy="163.8" r="3.5" fill="#ffc700"/>
<circle cx="241.5" cy="160.7" r="3.5" fill="#b3ff4c"/>
<circle cx="245.2" cy="159.7" r="3.5" fill="#2effd1"/>
<circle cx="244" cy="164.9" r="3.5" fill="#4dffb2"/>
<circle cx="236.3" cy="169" r="3.5" fill="#ff4c00"/>
<circle cx="239.4" cy="166.9" r="3.5" fill="#ffdb00"/>
<circle cx="216.8" cy="172.1" r="3.5" fill="#d1ff2e"/>
<circle cx="223" cy="171" r="3.5" fill="#e5ff1a"/>
<circle cx="220.9" cy="177.2" r="3.5" fill="#ff9e00"/>
<circle cx="223" cy="183.4" r="3.5" fill="#ff9e00"/>
<circle cx="225" cy="189.6" r="3.5" fill="#ff8a00"/>
<circle cx="215.7" cy="189.6" r="3.5" fill="#ff9e00"/>
<circle cx="220.9" cy="194.7" r="3.5" fill="#ff8a00"/>
<circle cx="225.4" cy="197.8" r="3.5" fill="#ff4c00"/>
<circle cx="256.3" cy="179.3" r="3.5" fill="#ffb300"/>
<circle cx="262.1" cy="186.5" r="3.5" fill="#80ff80"/>
<circle cx="268.3" cy="186.5" r="3.5" fill="#0480f5"/>
<circle cx="272" cy="189.6" r="3.5" fill="#0d00dc"/>
<circle cx="258" cy="191.6" r="3.5" fill="#ff8a00"/>
<circle cx="263.1" cy="194.7" r="3.5" fill="#ffb300"/>
<circle cx="269.3" cy="195.8" r="3.5" fill="#faff05"/>
<circle cx="283.7" cy="206.1" r="3.5" fill="#ffb300"/>
<circle cx="294" cy="199.3" r="3.5" fill="#00f0ff"/>
<circle cx="281.7" cy="216.4" r="3.5" fill="#0480f5"/>
<circle cx="281.2" cy="222.5" r="3.5" fill="#0d00ca"/>
<circle cx="297.1" cy="203.4" r="3.5" fill="#0d0094"/>
<circle cx="295" cy="211.2" r="3.5" fill="#0d00b8"/>
<circle cx="301.2" cy="208.1" r="3.5" fill="#0d00a6"/>
<circle cx="307" cy="209.2" r="3.5" fill="#0d00dc"/>
<circle cx="299.2" cy="206.1" r="3.5" fill="#0d00b8"/>
<circle cx="321.8" cy="212.2" r="3.5" fill="#0d00b8"/>
<circle cx="326.4" cy="211.2" r="3.5" fill="#00b2ff"/>
<circle cx="332.1" cy="208.1" r="3.5" fill="#fff000"/>
<circle cx="336.7" cy="210.2" r="3.5" fill="#faff05"/>
<circle cx="341.4" cy="209.2" r="3.5" fill="#4dffb2"/>
<circle cx="348.6" cy="208.1" r="3.5" fill="#2effd1"/>
<circle cx="212.7" cy="206.1" r="3.5" fill="#ff9e00"/>
<circle cx="215.7" cy="204" r="3.5" fill="#ffb300"/>
<circle cx="209.6" cy="213.3" r="3.5" fill="#ff4c00"/>
<circle cx="213.7" cy="216.4" r="3.5" fill="#ff9e00"/>
<circle cx="207.5" cy="224.6" r="3.5" fill="#ff0f00"/>
<circle cx="211.6" cy="226.7" r="3.5" fill="#fa0000"/>
<circle cx="216.4" cy="227.3" r="3.5" fill="#ff0f00"/>
<circle cx="201.9" cy="232.8" r="3.5" fill="#ffb300"/>
<circle cx="206.5" cy="234.3" r="3.5" fill="#ff2400"/>
<circle cx="202.4" cy="248.3" r="3.5" fill="#ff4c00"/>
<circle cx="238.4" cy="248.3" r="3.5" fill="#ff0f00"/>
<circle cx="243.1" cy="246.2" r="3.5" fill="#fa0000"/>
<circle cx="236.3" cy="251.4" r="3.5" fill="#ff3800"/>
<circle cx="248.7" cy="244.2" r="3.5" fill="#ff9e00"/>
<circle cx="251.8" cy="242.1" r="3.5" fill="#0480f5"/>
<circle cx="217.8" cy="275.1" r="4" fill="#0d00a6"/>
<circle cx="223.4" cy="277.1" r="3.5" fill="#0d1ae0"/>
<circle cx="218.8" cy="287.4" r="4" fill="#084deb"/>
<circle cx="224" cy="289.5" r="3.5" fill="#0480f5"/>
<circle cx="214.7" cy="270.9" r="3.5" fill="#00b2ff"/>
<circle cx="220.9" cy="282.3" r="3.5" fill="#0a38e7"/>
<circle cx="197.2" cy="290.5" r="3.5" fill="#05fffa"/>
<circle cx="202.4" cy="304.9" r="3.5" fill="#00b2ff"/>
<circle cx="207.5" cy="301.8" r="3.5" fill="#029efb"/>
<circle cx="206.5" cy="308" r="3.5" fill="#05fffa"/>
<circle cx="211.6" cy="306" r="3.5" fill="#2effd1"/>
<circle cx="212.7" cy="310.1" r="3.5" fill="#1affe5"/>
<circle cx="236.3" cy="300.2" r="3.5" fill="#0d0094"/>
<circle cx="237.8" cy="304.9" r="3.5" fill="#faff05"/>
<circle cx="325.9" cy="301.8" r="3.5" fill="#084deb"/>
<circle cx="330.1" cy="304.9" r="3.5" fill="#0d1ae0"/>
<circle cx="333.2" cy="298.8" r="3.5" fill="#0480f5"/>
<circle cx="278.6" cy="308" r="3.5" fill="#0d1ae0"/>
<circle cx="274.4" cy="307" r="3.5" fill="#ff9e00"/>
<circle cx="346.5" cy="182.4" r="3.5" fill="#80ff80"/>
<circle cx="354.8" cy="184.4" r="3.5" fill="#94ff6b"/>
<circle cx="358.9" cy="181.3" r="3.5" fill="#e5ff1a"/>
<circle cx="363" cy="183.4" r="3.5" fill="#fff000"/>
<circle cx="365.1" cy="187.5" r="3.5" fill="#e5ff1a"/>
<circle cx="361" cy="190.6" r="3.5" fill="#bdff42"/>
<circle cx="356.8" cy="191.6" r="3.5" fill="#80ff80"/>
<circle cx="368.2" cy="182.4" r="3.5" fill="#ffb300"/>
<circle cx="371.3" cy="188.6" r="3.5" fill="#80ff80"/>
<circle cx="375.4" cy="183.4" r="3.5" fill="#b3ff4c"/>
<circle cx="351.7" cy="179.3" r="3.5" fill="#4dffb2"/>
<circle cx="286.8" cy="224.6" r="3.5" fill="#80ff80"/>
<circle cx="293" cy="224.6" r="3.5" fill="#80ff80"/>
<circle cx="290.9" cy="220.5" r="3.5" fill="#4dffb2"/>
<circle cx="217.806" cy="192.262" r="3.8" fill="#9e0000"/>
<circle cx="255.499" cy="168.369" r="4" fill="#ff8a00"/>
<circle cx="255.911" cy="170.429" r="2.6" fill="#1affe5"/>
<circle cx="197.209" cy="298.75" r="4.2" fill="#ff9e00"/>
<circle cx="241.081" cy="308.019" r="4.4" fill="#ff9e00"/>
</g>
</g>
</g>
<use href="#map" transform="translate(196.50 486.20) scale(1.00000 1.00000) translate(-196.50 -96.50)"/>
<g transform="translate(0 390)">
<text class="b t" x="215.3" y="76.9">100</text>
<text class="b d" x="242.8" y="69.5">°</text>
<text class="b t" x="252.6" y="76.9">W</text>
<text class="b t" x="284.0" y="76.9">90</text>
<text class="b d" x="302.6" y="69.5">°</text>
<text class="b t" x="313.2" y="76.9">W</text>
<text class="b t" x="348.1" y="76.9">80</text>
<text class="b d" x="367.6" y="69.5">°</text>
<text class="b t" x="377.3" y="76.9">W</text>
<text class="b t" x="411.2" y="76.9">70</text>
<text class="b d" x="429.6" y="69.5">°</text>
<text class="b t" x="440.6" y="76.9">W</text>
<text class="b t" x="146.1" y="112.7">48</text>
<text class="b d" x="165.45" y="105.1">°</text>
<text class="b t" x="174.9" y="112.7">N</text>
<text class="b t" x="146.1" y="130.4">46</text>
<text class="b d" x="165.45" y="122.8">°</text>
<text class="b t" x="174.9" y="130.4">N</text>
<text class="b t" x="146.1" y="147.6">44</text>
<text class="b d" x="165.45" y="140.0">°</text>
<text class="b t" x="174.9" y="147.6">N</text>
<text class="b t" x="146.1" y="166.4">42</text>
<text class="b d" x="165.45" y="158.8">°</text>
<text class="b t" x="174.9" y="166.4">N</text>
<text class="b t" x="146.1" y="182.4">40</text>
<text class="b d" x="165.45" y="174.8">°</text>
<text class="b t" x="174.9" y="182.4">N</text>
<text class="b t" x="146.1" y="197.3">38</text>
<text class="b d" x="165.45" y="189.7">°</text>
<text class="b t" x="174.9" y="197.3">N</text>
<text class="b t" x="146.1" y="214.3">36</text>
<text class="b d" x="165.45" y="206.7">°</text>
<text class="b t" x="174.9" y="214.3">N</text>
<text class="b t" x="146.1" y="228.1">34</text>
<text class="b d" x="165.45" y="220.5">°</text>
<text class="b t" x="174.9" y="228.1">N</text>
<text class="b t" x="146.1" y="245.4">32</text>
<text class="b d" x="165.45" y="237.8">°</text>
<text class="b t" x="174.9" y="245.4">N</text>
<text class="b t" x="146.1" y="259.3">30</text>
<text class="b d" x="165.45" y="251.7">°</text>
<text class="b t" x="174.9" y="259.3">N</text>
<text class="b t" x="146.1" y="272.4">28</text>
<text class="b d" x="165.45" y="264.8">°</text>
<text class="b t" x="174.9" y="272.4">N</text>
<text class="b t" x="146.1" y="287.3">26</text>
<text class="b d" x="165.45" y="279.7">°</text>
<text class="b t" x="174.9" y="287.3">N</text>
<text class="b t" x="146.1" y="301.1">24</text>
<text class="b d" x="165.45" y="293.5">°</text>
<text class="b t" x="174.9" y="301.1">N</text>
<text class="b t" x="146.1" y="314.2">22</text>
<text class="b d" x="165.45" y="306.6">°</text>
<text class="b t" x="174.9" y="314.2">N</text>
<rect x="441.7" y="95.5" width="23" height="215.0" fill="url(#jet)" stroke="#262626" stroke-width="0.7"/>
<line x1="462.2" x2="464.7" y1="269.6" y2="269.6" stroke="#262626" stroke-width="0.8"/>
<text class="b c" x="473.3" y="277.1">-2</text>
<line x1="462.2" x2="464.7" y1="202.2" y2="202.2" stroke="#262626" stroke-width="0.8"/>
<text class="b c" x="473.3" y="209.7">0</text>
<line x1="462.2" x2="464.7" y1="135.0" y2="135.0" stroke="#262626" stroke-width="0.8"/>
<text class="b c" x="473.3" y="142.5">2</text>
<text class="b x" x="128.7" y="340.7">SAT<tspan dx="1.9" textLength="12.4" lengthAdjust="spacingAndGlyphs">-</tspan><tspan dx="1.9">RAP</tspan> 850 hPa MR (g/kg)</text>
</g>
<rect x="617.0" y="486.2" width="233.0" height="213.0" fill="none" stroke="#262626" stroke-width="1"/>
<g transform="translate(617.00 486.20) scale(1.00000 1.00000) translate(-196.50 -96.50)">
<clipPath id="sw4"><polygon points="208.5,153.2 261.5,153.2 265,158.4 297,164.5 338.3,171.8 361,178 377.6,185 358,245 335,306 332,311.5 193.2,311.5 196,275 200.5,230 205,185"/></clipPath>
<g clip-path="url(#sw4)">
<polygon points="208.5,153.2 261.5,153.2 265,158.4 297,164.5 338.3,171.8 361,178 377.6,185 358,245 335,306 332,311.5 193.2,311.5 196,275 200.5,230 205,185" fill="#75ff8a"/>
<g filter="url(#b1_5)">
<polygon points="219.6,158.5 238.5,158.5 239.2,167.2 219.6,167.2" fill="#38ffc7"/>
<polygon points="216.7,171.6 227.6,171.6 227.6,178.8 216.7,178.8" fill="#2effd1"/>
<polygon points="230.5,187.6 246.5,187.6 246.5,196.3 230.5,196.3" fill="#2effd1"/>
<polygon points="229.8,166.5 248.7,167.9 248.7,175.2 229.8,175.2" fill="#bdff42"/>
<polygon points="205,210.1 221,207.2 221,233.4 202.1,233.4" fill="#b3ff4c"/>
<polygon points="248.7,233.4 277.8,221.8 279.2,258.1 238.5,258.1" fill="#42ffbd"/>
<polygon points="277.8,230.5 295.2,230.5 295.2,256.7 279.2,256.7" fill="#24ffdb"/>
<polygon points="191.5,258.3 263.5,258.3 259.5,312.7 191.5,312.7" fill="#42ffbd"/>
<polygon points="255.5,254.3 299.5,252.3 291.5,284.3 267.5,294.3" fill="#4dffb2"/>
<polygon points="333.5,257.3 346.5,257.3 345.5,267.3 333.5,267.3" fill="#faff05"/>
</g>
<g filter="url(#b0_6)">
<polygon points="249,149 394.1,149 394.1,204.3 276.3,203.9 274.6,183.9 263.2,187.6 255.2,186.8 248,176.7 250.4,165" fill="#ffffff"/>
<polygon points="301.9,204.7 319.5,204.7 317.5,215.7 301.9,215.7" fill="#ffffff"/>
<polygon points="334.5,216.3 353.5,213.3 358.5,203.3 383.5,203.3 359.5,234.3 351.5,229.7 337.5,229.7" fill="#ffffff"/>
<polygon points="202.5,273.3 209.5,269.3 214.5,276.3 211.5,294.3 204.5,294.3" fill="#ffffff"/>
</g>
<g filter="url(#b1)">
<polygon points="253,189 271.2,188.3 272,198.5 254.5,198.5" fill="#ffc700"/>
<polygon points="248.7,176.7 254.5,176.7 256,186.8 251.6,185.4" fill="#0d00dc"/>
<polygon points="255.2,177.4 263.2,177.4 261.8,183.9 256,183.9" fill="#05fffa"/>
<polygon points="264,202.8 274.9,202.8 274.9,224.7 266.1,221.8" fill="#0d1ae0"/>
<polygon points="238.5,242.1 251.6,227.6 272,221.8 274.9,227.6 260.3,240.7 245.8,250.8" fill="#0761ef"/>
<polygon points="241.4,244.3 254.5,230.5 270.5,224.7 272,227.6 258.9,239.2 247.2,247.9" fill="#0d0094"/>
<polygon points="277,205 298.1,205 296,229.8 277.8,229.8" fill="#2effd1"/>
<polygon points="290.9,210.1 301,208.7 298.1,221.8 290.9,221.8" fill="#05fffa"/>
<polygon points="350.5,180.9 365.5,178.9 377.9,183.3 369.5,193.7 355.5,195.7 349.1,189.3" fill="#bdff42"/>
<polygon points="355.1,184.7 365.1,183.7 364.5,192.9 356.5,193.3" fill="#1affe5"/>
<polygon points="327.5,204.7 357.5,204.7 347.5,214.3 328.5,214.3" fill="#b3ff4c"/>
</g>
<g filter="url(#b0_6)">
<circle cx="256" cy="169.4" r="3" fill="#ff9e00"/>
<circle cx="256.2" cy="171.6" r="3" fill="#084deb"/>
<circle cx="293.8" cy="198.2" r="3" fill="#e50000"/>
<circle cx="294.1" cy="200.2" r="3" fill="#4dffb2"/>
<circle cx="285" cy="207.9" r="3" fill="#9e0000"/>
<circle cx="288" cy="210.1" r="3" fill="#b30000"/>
<circle cx="280.7" cy="211.6" r="3" fill="#ffdb00"/>
<circle cx="283.6" cy="215.9" r="3" fill="#faff05"/>
<circle cx="286.5" cy="225.4" r="3" fill="#ffb300"/>
<circle cx="269" cy="208.7" r="3" fill="#b30000"/>
<circle cx="271.2" cy="214.5" r="3" fill="#ff9e00"/>
<circle cx="267.6" cy="217.4" r="3" fill="#0d00ca"/>
<circle cx="272" cy="219.6" r="3" fill="#e50000"/>
<circle cx="266.1" cy="211.6" r="3" fill="#ffb300"/>
<circle cx="258.9" cy="191.2" r="3" fill="#ff8a00"/>
<circle cx="263.2" cy="193.4" r="3" fill="#ff9e00"/>
<circle cx="218.1" cy="191.2" r="3" fill="#ff8000"/>
<circle cx="319.2" cy="213" r="4.6" fill="#9e0000"/>
<circle cx="323.6" cy="216.7" r="4.2" fill="#9e0000"/>
<circle cx="327.2" cy="220.3" r="4.8" fill="#9e0000"/>
<circle cx="330.9" cy="223.9" r="3.2" fill="#b30000"/>
<circle cx="334.5" cy="208.7" r="3" fill="#e5ff1a"/>
<circle cx="338.1" cy="210.1" r="3" fill="#faff05"/>
<circle cx="240.7" cy="248.2" r="3" fill="#9e0000"/>
<circle cx="245" cy="247.6" r="3" fill="#b30000"/>
<circle cx="195.5" cy="296.3" r="2.8" fill="#ffc700"/>
<circle cx="196.5" cy="290.3" r="2.8" fill="#1affe5"/>
<circle cx="199.5" cy="304.3" r="2.8" fill="#2effd1"/>
<circle cx="245.5" cy="246.3" r="2.8" fill="#b30000"/>
<circle cx="241.5" cy="248.7" r="2.8" fill="#b30000"/>
<circle cx="345.5" cy="182.3" r="2.8" fill="#b3ff4c"/>
</g>
</g>
</g>
<use href="#map" transform="translate(617.00 486.20) scale(1.00000 1.00000) translate(-196.50 -96.50)"/>
<g transform="translate(421 390)">
<text class="b t" x="215.3" y="76.9">100</text>
<text class="b d" x="242.8" y="69.5">°</text>
<text class="b t" x="252.6" y="76.9">W</text>
<text class="b t" x="284.0" y="76.9">90</text>
<text class="b d" x="302.6" y="69.5">°</text>
<text class="b t" x="313.2" y="76.9">W</text>
<text class="b t" x="348.1" y="76.9">80</text>
<text class="b d" x="367.6" y="69.5">°</text>
<text class="b t" x="377.3" y="76.9">W</text>
<text class="b t" x="411.2" y="76.9">70</text>
<text class="b d" x="429.6" y="69.5">°</text>
<text class="b t" x="440.6" y="76.9">W</text>
<text class="b t" x="146.1" y="112.7">48</text>
<text class="b d" x="165.45" y="105.1">°</text>
<text class="b t" x="174.9" y="112.7">N</text>
<text class="b t" x="146.1" y="130.4">46</text>
<text class="b d" x="165.45" y="122.8">°</text>
<text class="b t" x="174.9" y="130.4">N</text>
<text class="b t" x="146.1" y="147.6">44</text>
<text class="b d" x="165.45" y="140.0">°</text>
<text class="b t" x="174.9" y="147.6">N</text>
<text class="b t" x="146.1" y="166.4">42</text>
<text class="b d" x="165.45" y="158.8">°</text>
<text class="b t" x="174.9" y="166.4">N</text>
<text class="b t" x="146.1" y="182.4">40</text>
<text class="b d" x="165.45" y="174.8">°</text>
<text class="b t" x="174.9" y="182.4">N</text>
<text class="b t" x="146.1" y="197.3">38</text>
<text class="b d" x="165.45" y="189.7">°</text>
<text class="b t" x="174.9" y="197.3">N</text>
<text class="b t" x="146.1" y="214.3">36</text>
<text class="b d" x="165.45" y="206.7">°</text>
<text class="b t" x="174.9" y="214.3">N</text>
<text class="b t" x="146.1" y="228.1">34</text>
<text class="b d" x="165.45" y="220.5">°</text>
<text class="b t" x="174.9" y="228.1">N</text>
<text class="b t" x="146.1" y="245.4">32</text>
<text class="b d" x="165.45" y="237.8">°</text>
<text class="b t" x="174.9" y="245.4">N</text>
<text class="b t" x="146.1" y="259.3">30</text>
<text class="b d" x="165.45" y="251.7">°</text>
<text class="b t" x="174.9" y="259.3">N</text>
<text class="b t" x="146.1" y="272.4">28</text>
<text class="b d" x="165.45" y="264.8">°</text>
<text class="b t" x="174.9" y="272.4">N</text>
<text class="b t" x="146.1" y="287.3">26</text>
<text class="b d" x="165.45" y="279.7">°</text>
<text class="b t" x="174.9" y="287.3">N</text>
<text class="b t" x="146.1" y="301.1">24</text>
<text class="b d" x="165.45" y="293.5">°</text>
<text class="b t" x="174.9" y="301.1">N</text>
<text class="b t" x="146.1" y="314.2">22</text>
<text class="b d" x="165.45" y="306.6">°</text>
<text class="b t" x="174.9" y="314.2">N</text>
<rect x="441.7" y="95.5" width="23" height="215.0" fill="url(#jet)" stroke="#262626" stroke-width="0.7"/>
<line x1="462.2" x2="464.7" y1="258.0" y2="258.0" stroke="#262626" stroke-width="0.8"/>
<text class="b c" x="473.3" y="265.5">-2</text>
<line x1="462.2" x2="464.7" y1="202.2" y2="202.2" stroke="#262626" stroke-width="0.8"/>
<text class="b c" x="473.3" y="209.7">0</text>
<line x1="462.2" x2="464.7" y1="146.9" y2="146.9" stroke="#262626" stroke-width="0.8"/>
<text class="b c" x="473.3" y="154.4">2</text>
<text class="b x" x="128.7" y="340.7">SAT<tspan dx="1.9" textLength="12.4" lengthAdjust="spacingAndGlyphs">-</tspan><tspan dx="1.9">RAP</tspan> 700 hPa MR (g/kg)</text>
</g>
<rect x="1037.5" y="485.2" width="235.0" height="215.0" fill="none" stroke="#262626" stroke-width="1"/>
<g transform="translate(1037.50 485.20) scale(1.00858 1.00939) translate(-196.50 -96.50)">
<clipPath id="sw5"><polygon points="208.5,153.2 261.5,153.2 265,158.4 297,164.5 338.3,171.8 361,178 377.6,185 358,245 335,306 332,311.5 193.2,311.5 196,275 200.5,230 205,185"/></clipPath>
<g clip-path="url(#sw5)">
<polygon points="208.5,153.2 261.5,153.2 265,158.4 297,164.5 338.3,171.8 361,178 377.6,185 358,245 335,306 332,311.5 193.2,311.5 196,275 200.5,230 205,185" fill="#75ff8a"/>
<g filter="url(#b1_5)">
<polygon points="204,204.8 221.3,203.3 221.3,235 199.7,235" fill="#bdff42"/>
<polygon points="277.5,229.3 294.8,229.3 294.8,255.2 279,255.2" fill="#24ffdb"/>
<polygon points="276.8,204 304.9,204 295.6,228.6 277.5,228.6" fill="#38ffc7"/>
<polygon points="297.7,214.9 335.2,216.3 336.6,246.6 294.8,246.6" fill="#38ffc7"/>
<polygon points="191,259.8 238.6,259.8 258.4,265.7 262.4,289.5 238.6,295.4 218.8,311.7 191,311.7" fill="#2effd1"/>
<polygon points="306,205.3 355.6,205.3 345.7,214.8 306,214.8" fill="#38ffc7"/>
</g>
<g filter="url(#b0_6)">
<polygon points="251.9,148.5 392.9,148.5 392.9,203.3 306.4,203.3 300.6,197.6 299.2,187.5 286.2,183.1 276.1,187.5 271.8,178.8 263.1,165.8" fill="#ffffff"/>
<polygon points="332.8,215.6 351.6,213.3 356.6,203.3 381.3,203.3 358.5,229.1 347.6,225.2 335.7,225.2" fill="#ffffff"/>
<polygon points="306,204.7 329.8,204.7 317.9,210.3 306,213.3" fill="#ffffff"/>
<polygon points="202.9,273.6 209.9,268.7 214.8,275.6 211.9,293.5 204.9,293.5" fill="#ffffff"/>
</g>
<g filter="url(#b1)">
<polygon points="237.2,157.2 251.6,157.2 274.7,178.8 275.4,190.4 260.2,190.4 245.8,177.4" fill="#00b2ff"/>
<polygon points="246.5,160.1 254.5,160.1 270.3,178.8 268.9,181.7 255.9,180.3 247.3,173.1" fill="#0d00af"/>
<polygon points="276.1,187.5 286.2,183.9 299.2,188.9 299.9,203.3 276.1,203.3" fill="#0d008b"/>
<polygon points="317.9,217 332.3,217 331.6,224.2 318.6,224.2" fill="#084deb"/>
<polygon points="350.6,182.5 364.5,181.1 377.4,184.5 368.4,197.4 354.6,197.4 351.6,191.5" fill="#57ffa8"/>
<polygon points="257.4,274 286.2,263.7 291.1,270.7 266.4,284.5" fill="#ffdb00"/>
<polygon points="259.4,271.3 287.8,261.4 290.2,266.7 264.4,279.2" fill="#ff2400"/>
<polygon points="345.7,229.1 357.5,228.1 355.6,243 347.6,243" fill="#d1ff2e"/>
</g>
<g filter="url(#b0_6)">
<circle cx="315" cy="170.2" r="3" fill="#1affe5"/>
<circle cx="326.6" cy="174.5" r="3" fill="#1affe5"/>
<circle cx="331.6" cy="174.2" r="3" fill="#1affe5"/>
<circle cx="326.6" cy="201.2" r="3.6" fill="#0d009d"/>
<circle cx="319.3" cy="211.5" r="4.6" fill="#0d00ca"/>
<circle cx="325.1" cy="212.3" r="4.4" fill="#0d00ca"/>
<circle cx="328.7" cy="217.7" r="3" fill="#0480f5"/>
<circle cx="292" cy="209.1" r="3" fill="#084deb"/>
<circle cx="293.4" cy="213.4" r="3" fill="#0d1ae0"/>
<circle cx="296.3" cy="210.5" r="3" fill="#faff05"/>
<circle cx="298.4" cy="208.8" r="3" fill="#faff05"/>
<circle cx="303.8" cy="200.4" r="3" fill="#faff05"/>
<circle cx="209.8" cy="219.2" r="3" fill="#ffc700"/>
<circle cx="213.4" cy="226.4" r="3" fill="#ffc700"/>
<circle cx="199.7" cy="250.9" r="3" fill="#ffc700"/>
<circle cx="348.6" cy="178" r="2.8" fill="#e50000"/>
<circle cx="350.6" cy="181.1" r="2.8" fill="#ff9e00"/>
<circle cx="346.6" cy="182.5" r="2.8" fill="#2effd1"/>
<circle cx="365.5" cy="182.7" r="2.8" fill="#ff9e00"/>
<circle cx="371.8" cy="185.5" r="2.8" fill="#ff8000"/>
<circle cx="369.4" cy="189.9" r="2.8" fill="#ffb300"/>
<circle cx="326.8" cy="201" r="2.8" fill="#0d00b8"/>
<circle cx="321.9" cy="211.7" r="2.8" fill="#0d00dc"/>
<circle cx="326.8" cy="213.3" r="2.8" fill="#0d00dc"/>
<circle cx="339.7" cy="225.2" r="2.8" fill="#1affe5"/>
<circle cx="349.6" cy="241" r="2.8" fill="#084deb"/>
<circle cx="347.6" cy="246" r="2.8" fill="#ff1a00"/>
<circle cx="343.7" cy="245" r="2.8" fill="#ff6100"/>
<circle cx="214.8" cy="269.7" r="2.8" fill="#9e0000"/>
<circle cx="218.8" cy="285.5" r="4" fill="#084deb"/>
<circle cx="198" cy="299.4" r="4" fill="#ff9e00"/>
<circle cx="196" cy="291.5" r="2.8" fill="#00b2ff"/>
<circle cx="260" cy="305.4" r="3.6" fill="#940000"/>
<circle cx="260.8" cy="309.7" r="4" fill="#940000"/>
<circle cx="262.4" cy="297.4" r="2.8" fill="#ffb300"/>
</g>
</g>
</g>
<use href="#map" transform="translate(1037.50 485.20) scale(1.00858 1.00939) translate(-196.50 -96.50)"/>
<g transform="translate(842 390)">
<text class="b t" x="217.3" y="74.9">100</text>
<text class="b d" x="243.7" y="67.5">°</text>
<text class="b t" x="254.8" y="74.9">W</text>
<text class="b t" x="285.2" y="74.9">90</text>
<text class="b d" x="304.6" y="67.5">°</text>
<text class="b t" x="315.0" y="74.9">W</text>
<text class="b t" x="348.1" y="74.9">80</text>
<text class="b d" x="366.8" y="67.5">°</text>
<text class="b t" x="377.3" y="74.9">W</text>
<text class="b t" x="413.4" y="74.9">70</text>
<text class="b d" x="431.8" y="67.5">°</text>
<text class="b t" x="442.9" y="74.9">W</text>
<text class="b t" x="146.1" y="112.7">48</text>
<text class="b d" x="165.45" y="105.1">°</text>
<text class="b t" x="174.9" y="112.7">N</text>
<text class="b t" x="146.1" y="130.8">46</text>
<text class="b d" x="165.45" y="123.2">°</text>
<text class="b t" x="174.9" y="130.8">N</text>
<text class="b t" x="146.1" y="147.6">44</text>
<text class="b d" x="165.45" y="140.0">°</text>
<text class="b t" x="174.9" y="147.6">N</text>
<text class="b t" x="146.1" y="167.2">42</text>
<text class="b d" x="165.45" y="159.6">°</text>
<text class="b t" x="174.9" y="167.2">N</text>
<text class="b t" x="146.1" y="183.2">40</text>
<text class="b d" x="165.45" y="175.6">°</text>
<text class="b t" x="174.9" y="183.2">N</text>
<text class="b t" x="146.1" y="198.1">38</text>
<text class="b d" x="165.45" y="190.5">°</text>
<text class="b t" x="174.9" y="198.1">N</text>
<text class="b t" x="146.1" y="215.1">36</text>
<text class="b d" x="165.45" y="207.5">°</text>
<text class="b t" x="174.9" y="215.1">N</text>
<text class="b t" x="146.1" y="228.8">34</text>
<text class="b d" x="165.45" y="221.2">°</text>
<text class="b t" x="174.9" y="228.8">N</text>
<text class="b t" x="146.1" y="245.8">32</text>
<text class="b d" x="165.45" y="238.2">°</text>
<text class="b t" x="174.9" y="245.8">N</text>
<text class="b t" x="146.1" y="260.1">30</text>
<text class="b d" x="165.45" y="252.5">°</text>
<text class="b t" x="174.9" y="260.1">N</text>
<text class="b t" x="146.1" y="274.6">28</text>
<text class="b d" x="165.45" y="267.0">°</text>
<text class="b t" x="174.9" y="274.6">N</text>
<text class="b t" x="146.1" y="289.5">26</text>
<text class="b d" x="165.45" y="281.9">°</text>
<text class="b t" x="174.9" y="289.5">N</text>
<text class="b t" x="146.1" y="302.2">24</text>
<text class="b d" x="165.45" y="294.6">°</text>
<text class="b t" x="174.9" y="302.2">N</text>
<text class="b t" x="146.1" y="316.8">22</text>
<text class="b d" x="165.45" y="309.2">°</text>
<text class="b t" x="174.9" y="316.8">N</text>
<rect x="443.5" y="95.5" width="23" height="215.0" fill="url(#jet)" stroke="#262626" stroke-width="0.7"/>
<line x1="464.0" x2="466.5" y1="306.0" y2="306.0" stroke="#262626" stroke-width="0.8"/>
<text class="b c" x="475.6" y="313.5">-1</text>
<line x1="464.0" x2="466.5" y1="254.4" y2="254.4" stroke="#262626" stroke-width="0.8"/>
<text class="b c" x="475.6" y="261.9">-0.5</text>
<line x1="464.0" x2="466.5" y1="202.6" y2="202.6" stroke="#262626" stroke-width="0.8"/>
<text class="b c" x="475.6" y="210.1">0</text>
<line x1="464.0" x2="466.5" y1="150.6" y2="150.6" stroke="#262626" stroke-width="0.8"/>
<text class="b c" x="475.6" y="158.1">0.5</text>
<line x1="464.0" x2="466.5" y1="98.8" y2="98.8" stroke="#262626" stroke-width="0.8"/>
<text class="b c" x="475.6" y="106.3">1</text>
<text class="b x" x="129.5" y="341.5">SAT<tspan dx="1.9" textLength="12.4" lengthAdjust="spacingAndGlyphs">-</tspan><tspan dx="1.9">RAP</tspan> 500 hPa MR (g/kg)</text>
</g>
</svg></body></html>
